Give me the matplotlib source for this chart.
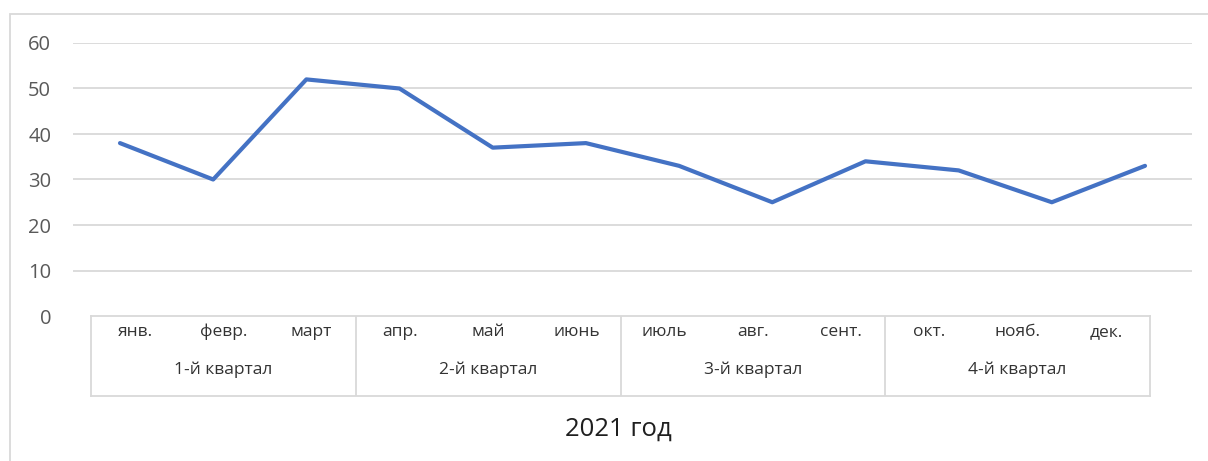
import matplotlib
matplotlib.use("Agg")
import matplotlib.pyplot as plt
from matplotlib.patches import Rectangle

plt.rcParams['font.family'] = ['Open Sans', 'DejaVu Sans']

months = ["янв.", "февр.", "март", "апр.", "май", "июнь",
          "июль", "авг.", "сент.", "окт.", "нояб.", "дек."]
quarters = ["1-й квартал", "2-й квартал", "3-й квартал", "4-й квартал"]
values = [38, 30, 52, 50, 37, 38, 33, 25, 34, 32, 25, 33]
y_ticks = [0, 10, 20, 30, 40, 50, 60]
year_label = "2021 год"

W, H = 1208, 461
fig = plt.figure(figsize=(W / 100, H / 100), dpi=100)
fig.patch.set_facecolor("white")


def fx(px):
    return px / W


def fy(py):
    return 1 - py / H


# outer chart frame (top and left edges visible)
fig.patches.append(Rectangle((fx(10), -0.2), 1.5, fy(14) + 0.2,
                             transform=fig.transFigure, fill=False,
                             edgecolor="#D9D9D9", linewidth=1.3))

# main plot area
ax = fig.add_axes([fx(73.4), fy(316), fx(1191.6) - fx(73.4), fy(43) - fy(316)])
x = list(range(len(values)))
ax.plot(x, values, color="#4472C4", linewidth=3.0,
        solid_capstyle="round", solid_joinstyle="round", zorder=3)
ax.set_xlim(-0.5, len(values) - 0.5)
ax.set_ylim(0, 60)
ax.set_yticks(y_ticks)
ax.set_yticklabels([str(v) for v in y_ticks], fontsize=14.5, color="#595959")
ax.tick_params(axis="y", length=0, pad=16)
ax.set_xticks([])
for s in ax.spines.values():
    s.set_visible(False)
ax.yaxis.grid(True, color="#D9D9D9", linewidth=1.3)
ax.get_ygridlines()[0].set_visible(False)
ax.set_axisbelow(True)

# two-level category table below the plot
cx = fig.add_axes([fx(91), fy(396), fx(1150) - fx(91), fy(316) - fy(396)])
cx.set_xlim(0, 12)
cx.set_ylim(0, 2)
cx.set_xticks([])
cx.set_yticks([])
cx.patch.set_visible(False)
for s in cx.spines.values():
    s.set_color("#D9D9D9")
    s.set_linewidth(1.3)
for b in (3, 6, 9):
    cx.axvline(b, color="#D9D9D9", linewidth=1.3)
for i, m in enumerate(months):
    cx.text(i + 0.5, 1.6, m, ha="center", va="center",
            fontsize=12.5, color="#333333")
for q, name in enumerate(quarters):
    cx.text(3 * q + 1.5, 0.65, name, ha="center", va="center",
            fontsize=12.5, color="#333333")

fig.text(fx(618), fy(429), year_label, ha="center", va="center",
         fontsize=18.5, color="#1F1F1F")

fig.savefig("out.png", dpi=100, facecolor="white")
